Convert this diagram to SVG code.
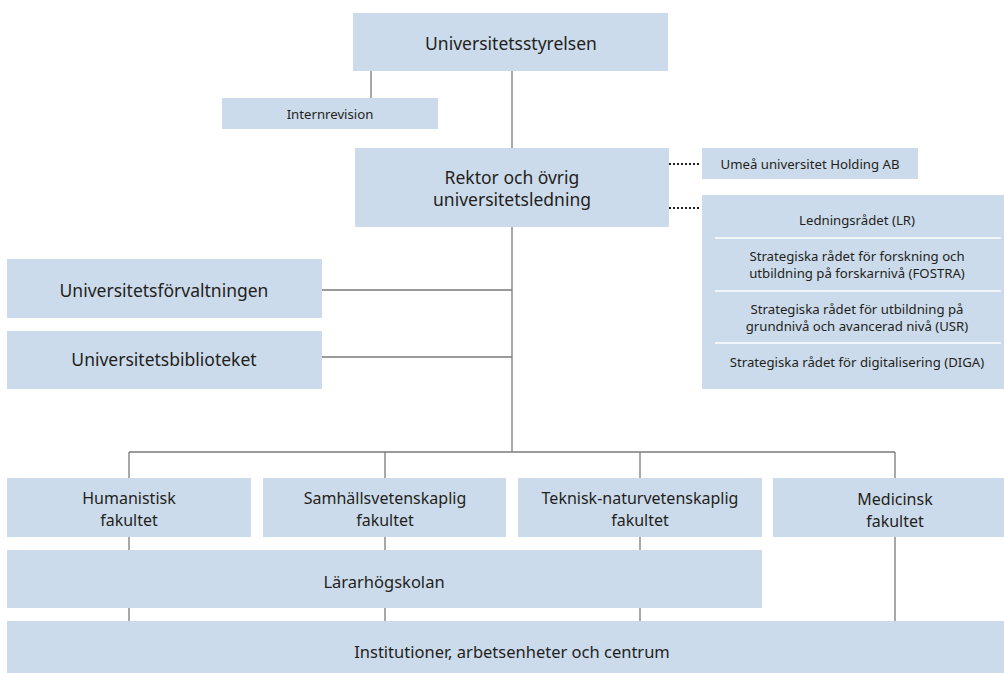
<svg xmlns="http://www.w3.org/2000/svg" width="1004" height="673" viewBox="0 0 1004 673">
<style>
.box{fill:#ccdbeb}
.t{font-family:"Noto Sans","Liberation Sans",sans-serif;fill:#231f20;text-anchor:middle;dominant-baseline:central}
.l{font-size:17.5px}
.m{font-size:16.5px}
.f{font-size:16px}
.s{font-size:13.2px}
.c{stroke:#7a7a7a;stroke-width:1.3;fill:none}
.d{stroke:#231f20;stroke-width:2;stroke-dasharray:2 2;fill:none}
.sep{stroke:#ffffff;stroke-width:1.3}
</style>
<rect width="1004" height="673" fill="#ffffff"/>
<g id="connectors">
<path class="c" d="M512 71V148M371 71V98M512 227V452M322 290H512M322 357H512M129 452H895M129 452V478M385 452V478M640 452V478M895 452V478M129 537V550M385 537V550M640 537V550M129 608V621M385 608V621M640 608V621M895 537V621"/>
<path class="d" d="M669 164H701M669 208H701"/>
</g>
<g id="styrelsen"><rect class="box" x="353" y="13" width="315" height="58"/><text class="t l" x="511" y="43">Universitetsstyrelsen</text></g>
<g id="internrevision"><rect class="box" x="222" y="98" width="216" height="31"/><text class="t s" x="330" y="114">Internrevision</text></g>
<g id="rektor"><rect class="box" x="355" y="148" width="314" height="79"/><text class="t l" x="512" y="177">Rektor och övrig</text><text class="t l" x="512" y="199">universitetsledning</text></g>
<g id="holding"><rect class="box" x="702" y="148" width="216" height="31"/><text class="t s" x="810" y="164">Umeå universitet Holding AB</text></g>
<g id="rad"><rect class="box" x="702" y="195" width="302" height="194"/>
<line class="sep" x1="715" y1="238" x2="1001" y2="238"/><line class="sep" x1="715" y1="291" x2="1001" y2="291"/><line class="sep" x1="715" y1="343" x2="1001" y2="343"/>
<text class="t s" x="857" y="220">Ledningsrådet (LR)</text>
<text class="t s" x="857" y="256">Strategiska rådet för forskning och</text><text class="t s" x="857" y="273">utbildning på forskarnivå (FOSTRA)</text>
<text class="t s" x="857" y="309">Strategiska rådet för utbildning på</text><text class="t s" x="857" y="326">grundnivå och avancerad nivå (USR)</text>
<text class="t s" x="857" y="362">Strategiska rådet för digitalisering (DIGA)</text></g>
<g id="forvaltningen"><rect class="box" x="7" y="259" width="315" height="59"/><text class="t l" x="164" y="290">Universitetsförvaltningen</text></g>
<g id="biblioteket"><rect class="box" x="7" y="331" width="315" height="58"/><text class="t l" x="164" y="359">Universitetsbiblioteket</text></g>
<g id="hum"><rect class="box" x="7" y="478" width="244" height="59"/><text class="t f" x="129" y="498">Humanistisk</text><text class="t f" x="129" y="520">fakultet</text></g>
<g id="sam"><rect class="box" x="263" y="478" width="243" height="59"/><text class="t f" x="385" y="498">Samhällsvetenskaplig</text><text class="t f" x="385" y="520">fakultet</text></g>
<g id="tek"><rect class="box" x="518" y="478" width="244" height="59"/><text class="t f" x="640" y="498">Teknisk-naturvetenskaplig</text><text class="t f" x="640" y="520">fakultet</text></g>
<g id="med"><rect class="box" x="773" y="478" width="231" height="59"/><text class="t f" x="895" y="499">Medicinsk</text><text class="t f" x="895" y="521">fakultet</text></g>
<g id="lararhogskolan"><rect class="box" x="7" y="550" width="755" height="58"/><text class="t m" x="384" y="581">Lärarhögskolan</text></g>
<g id="institutioner"><rect class="box" x="7" y="621" width="997" height="52"/><text class="t m" x="512" y="651">Institutioner, arbetsenheter och centrum</text></g>
</svg>
